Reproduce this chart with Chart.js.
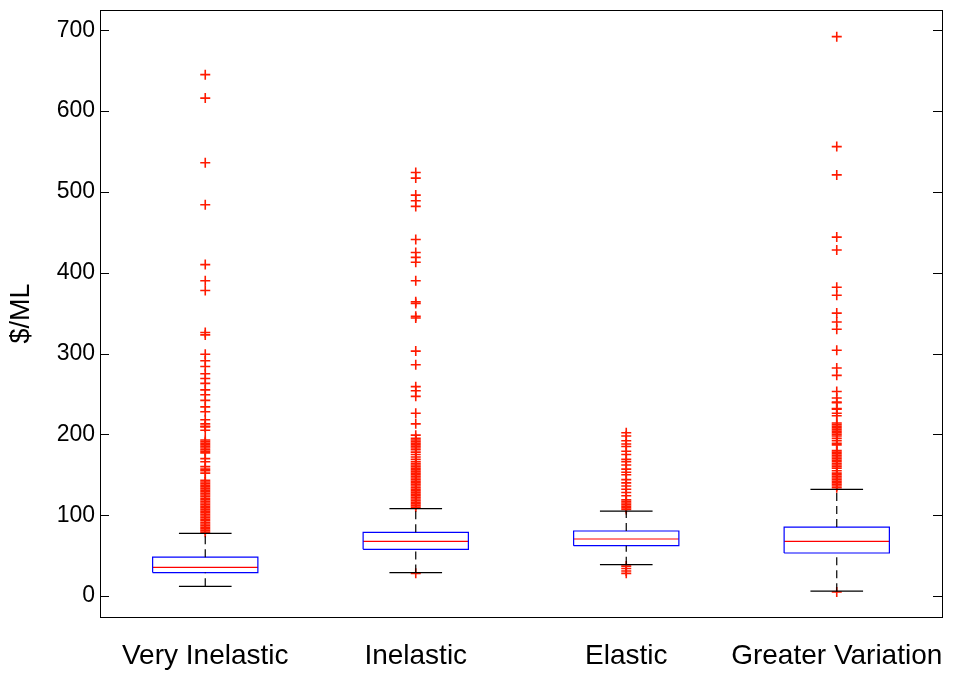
<!DOCTYPE html>
<html>
<head>
<meta charset="utf-8">
<script src="https://cdn.jsdelivr.net/npm/chart.js@4"></script>
<style>
  html, body { margin: 0; padding: 0; background: #fff; }
  #wrap { width: 969px; height: 673px; }
</style>
</head>
<body>
<div id="wrap"><canvas id="boxChart" width="969" height="673"></canvas></div>
<script>
// categories and box statistics
const categories = ["Very Inelastic", "Inelastic", "Elastic", "Greater Variation"];
const lowerWhisker = [12, 29, 38.7, 6];
const q1Values = [29, 57.7, 62.2, 53.2];
const medianValues = [35.5, 67.6, 70.5, 67.6];
const q3Values = [48, 78.8, 80.4, 85.3];
const upperWhisker = [77.5, 108, 105, 132];
const yTicks = [0, 100, 200, 300, 400, 500, 600, 700];

// outliers per category
const outliersVeryInelastic = [645, 616, 536, 484, 410, 390, 378, 326, 323, 299, 291, 284, 275, 269, 263, 255, 249, 242, 234, 228, 218, 213, 210, 209, 205,
  193, 191, 189, 187, 185, 183, 181, 179, 177, 170, 166, 160, 157, 155, 152,
  143, 141, 139, 137, 135, 133, 131, 129, 127, 125, 123, 121,
  119, 117, 115, 113, 111, 109, 107, 105, 103, 101, 99, 97, 95, 93, 91, 89, 87, 85, 83, 81, 79];
const outliersInelastic = [524, 517, 496, 489, 482, 441, 425, 419, 413, 390, 364, 362, 346, 344, 303, 286, 259, 254, 247, 226, 213, 199,
  195, 193, 191, 189, 187, 185, 183, 181, 178, 175, 172, 169, 166,
  164, 162, 160, 158, 156, 154, 152, 150, 148, 146, 144, 142, 140, 138, 136, 134, 132, 130, 128, 126, 124, 122, 120, 118, 116, 114, 112, 110,
  28];
const outliersElastic = [202, 198, 192, 188, 185, 179, 175, 169, 166, 162, 157, 153, 150, 144, 140, 136, 132, 128, 124,
  119, 117, 115, 113, 111, 109, 107, 37, 34, 31, 28];
const outliersGreater = [692, 556, 521, 444, 428, 382, 372, 350, 339, 330, 304, 282, 273, 253, 245, 240, 232, 239, 231, 226, 223,
  214, 212, 210, 208, 206, 204, 202, 200, 198, 195, 192, 189, 187,
  180, 178, 176, 174, 172, 170, 168, 166, 164, 162, 160, 158, 155, 152,
  150, 148, 146, 144, 142, 140, 138, 136, 134, 5];
const outlierLists = [outliersVeryInelastic, outliersInelastic, outliersElastic, outliersGreater];

const boxHalf = 0.25;
const capHalf = 0.125;

// build the line pieces, a null y breaks the line between pieces
const boxPts = [], medPts = [], whiskPts = [], capPts = [], outPts = [];
categories.forEach((c, i) => {
  boxPts.push({x: i - boxHalf, y: q1Values[i]}, {x: i + boxHalf, y: q1Values[i]},
              {x: i + boxHalf, y: q3Values[i]}, {x: i - boxHalf, y: q3Values[i]},
              {x: i - boxHalf, y: q1Values[i]}, {x: i, y: null});
  medPts.push({x: i - boxHalf, y: medianValues[i]}, {x: i + boxHalf, y: medianValues[i]}, {x: i, y: null});
  whiskPts.push({x: i, y: q3Values[i]}, {x: i, y: upperWhisker[i]}, {x: i, y: null},
                {x: i, y: lowerWhisker[i]}, {x: i, y: q1Values[i]}, {x: i, y: null});
  capPts.push({x: i - capHalf, y: upperWhisker[i]}, {x: i + capHalf, y: upperWhisker[i]}, {x: i, y: null},
              {x: i - capHalf, y: lowerWhisker[i]}, {x: i + capHalf, y: lowerWhisker[i]}, {x: i, y: null});
  outlierLists[i].forEach(v => outPts.push({x: i, y: v}));
});

function lineSet(data, color, dash) {
  return {
    data: data,
    showLine: true,
    borderColor: color,
    borderWidth: 1.2,
    borderDash: dash || [],
    pointRadius: 0,
    pointHoverRadius: 0,
    spanGaps: false,
    fill: false
  };
}

// axes frame with inward ticks like the original
const framePlugin = {
  id: 'frame',
  afterDraw(chart) {
    const a = chart.chartArea, ctx = chart.ctx, y = chart.scales.y;
    ctx.save();
    ctx.strokeStyle = '#000';
    ctx.lineWidth = 1;
    ctx.strokeRect(Math.round(a.left) + 0.5, Math.round(a.top) + 0.5,
                   Math.round(a.right - a.left), Math.round(a.bottom - a.top));
    ctx.beginPath();
    yTicks.forEach(t => {
      const py = Math.round(y.getPixelForValue(t)) + 0.5;
      ctx.moveTo(a.left, py); ctx.lineTo(a.left + 9, py);
      ctx.moveTo(a.right, py); ctx.lineTo(a.right - 9, py);
    });
    ctx.stroke();
    ctx.restore();
  }
};

const fontFamily = "'Liberation Sans', Arial, Helvetica, sans-serif";

new Chart("boxChart", {
  type: "scatter",
  data: {
    datasets: [
      lineSet(whiskPts, "#000", [8, 5]),
      lineSet(capPts, "#000"),
      lineSet(boxPts, "#0000ff"),
      lineSet(medPts, "#ff0000"),
      {
        data: outPts,
        showLine: false,
        pointStyle: "cross",
        pointRadius: 5,
        pointHoverRadius: 5,
        borderColor: "#ff1a00",
        borderWidth: 1.6
      }
    ]
  },
  options: {
    responsive: false,
    animation: false,
    events: [],
    layout: {padding: {top: 10, right: 27, left: 0, bottom: 0}},
    plugins: {legend: {display: false}, tooltip: {enabled: false}},
    scales: {
      x: {
        type: "linear",
        min: -0.5,
        max: 3.5,
        grid: {display: false, drawTicks: false},
        border: {display: false},
        afterBuildTicks: s => { s.ticks = categories.map((c, i) => ({value: i})); },
        afterFit: s => { s.height = 56; s.paddingLeft = 0; s.paddingRight = 0; },
        ticks: {
          color: "#000",
          font: {family: fontFamily, size: 28},
          padding: 22,
          maxRotation: 0,
          autoSkip: false,
          callback: v => categories[v]
        }
      },
      y: {
        min: -26,
        max: 725,
        grid: {display: false, drawTicks: false},
        border: {display: false},
        afterBuildTicks: s => { s.ticks = yTicks.map(v => ({value: v})); },
        afterFit: s => { s.width = 100; s.paddingTop = 0; s.paddingBottom = 0; },
        title: {
          display: true,
          text: "$/ML",
          color: "#000",
          font: {family: fontFamily, size: 27},
          padding: {top: 5, bottom: 0}
        },
        ticks: {
          color: "#000",
          font: {family: fontFamily, size: 23},
          padding: 5
        }
      }
    }
  },
  plugins: [framePlugin]
});
</script>
</body>
</html>
